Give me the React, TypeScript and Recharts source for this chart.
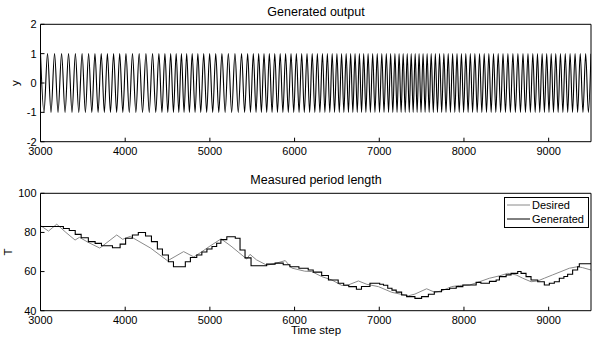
import React from "react";
import { LineChart, Line, XAxis, YAxis, Legend } from "recharts";

const FONT = '"Liberation Sans", Arial, Helvetica, sans-serif';

// generated output: time steps of each maximum / minimum of the oscillation
const peakSteps = [
  3000, 3083, 3166, 3249, 3331, 3412, 3491, 3568, 3643, 3717, 3790, 3863, 3935, 4009, 4086, 4165,
  4245, 4323, 4398, 4469, 4537, 4602, 4664, 4726, 4791, 4858, 4927, 4997, 5069, 5142, 5218, 5296,
  5374, 5446, 5513, 5576, 5639, 5702, 5766, 5830, 5894, 5958, 6021, 6084, 6147, 6208, 6269, 6329,
  6387, 6444, 6500, 6555, 6609, 6662, 6714, 6765, 6816, 6868, 6922, 6976, 7030, 7083, 7134, 7185,
  7234, 7282, 7330, 7377, 7424, 7470, 7517, 7565, 7613, 7662, 7712, 7763, 7814, 7866, 7918, 7970,
  8022, 8075, 8129, 8184, 8239, 8294, 8349, 8404, 8461, 8519, 8578, 8637, 8697, 8756, 8813, 8868,
  8923, 8977, 9030, 9084, 9139, 9196, 9253, 9312, 9373, 9437, 9500,
];
const troughSteps = [
  3041, 3124, 3207, 3290, 3372, 3452, 3530, 3606, 3680, 3754, 3826, 3899, 3972, 4048, 4126, 4205,
  4284, 4361, 4434, 4503, 4570, 4633, 4695, 4758, 4825, 4892, 4962, 5033, 5105, 5180, 5257, 5335,
  5410, 5479, 5545, 5608, 5671, 5734, 5798, 5862, 5926, 5990, 6053, 6115, 6178, 6239, 6299, 6358,
  6416, 6472, 6528, 6582, 6636, 6688, 6740, 6791, 6842, 6895, 6949, 7003, 7056, 7110, 7160, 7210,
  7258, 7306, 7354, 7400, 7447, 7493, 7541, 7589, 7638, 7687, 7737, 7788, 7840, 7892, 7944, 7996,
  8049, 8102, 8156, 8211, 8266, 8321, 8376, 8433, 8490, 8548, 8607, 8667, 8726, 8784, 8841, 8895,
  8950, 9004, 9057, 9112, 9168, 9225, 9282, 9342, 9405, 9469,
];
const peakLevel = 1;
const troughLevel = -1;

// measured period length
const desiredSteps = [
  3000, 3094, 3192, 3300, 3408, 3460, 3560, 3700, 3900, 3970, 4060, 4300, 4500, 4690, 4810, 4900,
  5000, 5132, 5250, 5435, 5474, 5550, 5670, 5760, 5890, 5965, 6120, 6204, 6322, 6440, 6557, 6636,
  6754, 6852, 6990, 7147, 7343, 7421, 7559, 7657, 7735, 7853, 7948, 8066, 8183, 8301, 8419, 8517,
  8615, 8694, 8792, 8871, 8949, 9047, 9146, 9244, 9342, 9401, 9500,
];
const desiredT = [
  83.5, 80.7, 84.2, 80, 76.1, 77.5, 75, 72, 78.7, 76.5, 78, 72, 65.5, 70.2, 67.5, 70,
  73, 76.7, 73, 66.4, 68.8, 66, 63.3, 64, 65.6, 61.8, 60.2, 60, 57.4, 55.7, 52.9, 53.2,
  55.2, 53.5, 52.3, 49.4, 47.6, 48.5, 51.2, 49.4, 50.1, 52.3, 52.9, 53.1, 54.8, 56.6, 57.8, 59.1,
  58.3, 56.6, 54.8, 55.2, 56.6, 58.3, 60, 61.7, 62.5, 62, 60.8,
];
const generatedSteps = [
  3000, 3270, 3340, 3410, 3480, 3565, 3645, 3720, 3850, 3940, 4005, 4085, 4155, 4240, 4310, 4380,
  4440, 4510, 4570, 4710, 4770, 4845, 4905, 4965, 5025, 5080, 5130, 5200, 5300, 5356, 5415, 5486,
  5670, 5770, 5866, 5945, 6051, 6161, 6220, 6320, 6400, 6515, 6580, 6640, 6730, 6790, 6890, 7005,
  7050, 7100, 7150, 7200, 7264, 7323, 7421, 7500, 7580, 7650, 7735, 7830, 7909, 7987, 8144, 8200,
  8301, 8380, 8419, 8498, 8556, 8635, 8674, 8733, 8792, 8871, 8949, 9008, 9067, 9126, 9180, 9224,
  9283, 9342, 9362, 9500,
];
const generatedT = [
  83, 82, 81, 79, 77.3, 75.3, 74.4, 73.2, 72.2, 74, 77, 78.7, 80, 78.2, 75.3, 71.5,
  68.5, 65, 62.5, 65, 67.2, 68.5, 70, 71.5, 72.8, 74.5, 76.3, 77.8, 77, 71, 67, 63,
  63.8, 64.3, 63.5, 62.5, 61.7, 60.8, 59.7, 58, 55.7, 54, 53, 52.3, 51, 52.4, 54, 53.5,
  53, 51.5, 50.5, 49.5, 48, 47.2, 46.3, 47.2, 48.4, 49.7, 50.8, 51.5, 52.3, 53.1, 54.5, 54,
  55, 55.7, 57.4, 58.3, 59.1, 60, 59.1, 57.4, 55.7, 54.8, 53.1, 54, 54.8, 56.6, 57.5, 58.6,
  60.8, 62.5, 64, 64,
];

const xTicks = [3000, 4000, 5000, 6000, 7000, 8000, 9000];
const yTicksTop = [-2, -1, 0, 1, 2];
const yTicksBottom = [40, 60, 80, 100];

const signalData = [
  ...peakSteps.map((t) => ({ t, y: peakLevel })),
  ...troughSteps.map((t) => ({ t, y: troughLevel })),
].sort((a, b) => a.t - b.t);
const desiredData = desiredSteps.map((t, i) => ({ t, T: desiredT[i] }));
const generatedData = generatedSteps.map((t, i) => ({ t, T: generatedT[i] }));

const tickStyle = { fill: "#000", fontSize: 11, fontFamily: FONT };

const Text = ({ x, y, size, rotate, children }: any) => (
  <div
    style={{
      position: "absolute",
      left: x,
      top: y,
      transform: `translate(-50%, -50%)${rotate ? " rotate(-90deg)" : ""}`,
      fontSize: size,
      lineHeight: 1,
      whiteSpace: "nowrap",
      color: "#000",
    }}
  >
    {children}
  </div>
);

const renderLegend = (props: any) => {
  const { payload } = props;
  return (
    <div
      style={{
        width: 85,
        height: 31,
        border: "1px solid #000",
        boxSizing: "border-box",
        background: "#fff",
        fontFamily: FONT,
        fontSize: 11,
        color: "#000",
      }}
    >
      {(payload || []).map((p: any) => (
        <div key={p.value} style={{ display: "flex", alignItems: "center", height: 14.5 }}>
          <svg width={27} height={6} style={{ flex: "none" }}>
            <line x1={2} x2={25} y1={3} y2={3} stroke={p.color} strokeWidth={1} />
          </svg>
          <span>{p.value}</span>
        </div>
      ))}
    </div>
  );
};

const boxAxes = (domainY: number[], ticksY: number[]) => [
  <XAxis
    key="xb"
    xAxisId="b"
    dataKey="t"
    type="number"
    domain={[3000, 9500]}
    ticks={xTicks}
    interval={0}
    allowDataOverflow
    height={20}
    tickSize={-4}
    tickMargin={9}
    stroke="#000"
    tick={tickStyle}
  />,
  <XAxis
    key="xt"
    xAxisId="t"
    orientation="top"
    dataKey="t"
    type="number"
    domain={[3000, 9500]}
    ticks={xTicks}
    interval={0}
    allowDataOverflow
    height={1}
    tickSize={-4}
    stroke="#000"
    tick={false}
  />,
  <YAxis
    key="yl"
    yAxisId="l"
    type="number"
    domain={domainY}
    ticks={ticksY}
    interval={0}
    allowDataOverflow
    width={30}
    tickSize={-4}
    tickMargin={8}
    stroke="#000"
    tick={tickStyle}
  />,
  <YAxis
    key="yr"
    yAxisId="r"
    orientation="right"
    type="number"
    domain={domainY}
    ticks={ticksY}
    interval={0}
    allowDataOverflow
    width={1}
    tickSize={-4}
    stroke="#000"
    tick={false}
  />,
];

export default function App() {
  return (
    <div
      style={{
        position: "absolute",
        left: 0,
        top: 0,
        width: 593,
        height: 341,
        background: "#fff",
        fontFamily: FONT,
      }}
    >
      <div style={{ position: "absolute", left: 0, top: 0 }}>
        <LineChart
          width={593}
          height={170}
          data={signalData}
          margin={{ top: 23.3, right: 1, bottom: 8.3, left: 10.5 }}
        >
          {boxAxes([-2, 2], yTicksTop)}
          <Line
            xAxisId="b"
            yAxisId="l"
            type="monotone"
            dataKey="y"
            stroke="#000"
            strokeWidth={1.1}
            dot={false}
            isAnimationActive={false}
          />
        </LineChart>
      </div>

      <div style={{ position: "absolute", left: 0, top: 170 }}>
        <LineChart
          width={593}
          height={171}
          margin={{ top: 22.3, right: 1, bottom: 10.3, left: 10.5 }}
        >
          {boxAxes([40, 100], yTicksBottom)}
          <Line
            xAxisId="b"
            yAxisId="l"
            data={desiredData}
            type="linear"
            dataKey="T"
            name="Desired"
            stroke="#8a8a8a"
            strokeWidth={1}
            dot={false}
            isAnimationActive={false}
          />
          <Line
            xAxisId="b"
            yAxisId="l"
            data={generatedData}
            type="stepAfter"
            dataKey="T"
            name="Generated"
            stroke="#000"
            strokeWidth={1.1}
            dot={false}
            isAnimationActive={false}
          />
          <Legend
            layout="horizontal"
            verticalAlign="middle"
            align="center"
            content={renderLegend}
            wrapperStyle={{ left: 504, top: 26.7, width: 85, height: 31 }}
          />
        </LineChart>
      </div>

      <Text x={316} y={12} size={12.5}>Generated output</Text>
      <Text x={15.5} y={83} size={11.5} rotate>y</Text>
      <Text x={316} y={180} size={12.5}>Measured period length</Text>
      <Text x={8.5} y={252} size={11.5} rotate>T</Text>
      <Text x={316} y={331} size={11.5}>Time step</Text>
    </div>
  );
}
